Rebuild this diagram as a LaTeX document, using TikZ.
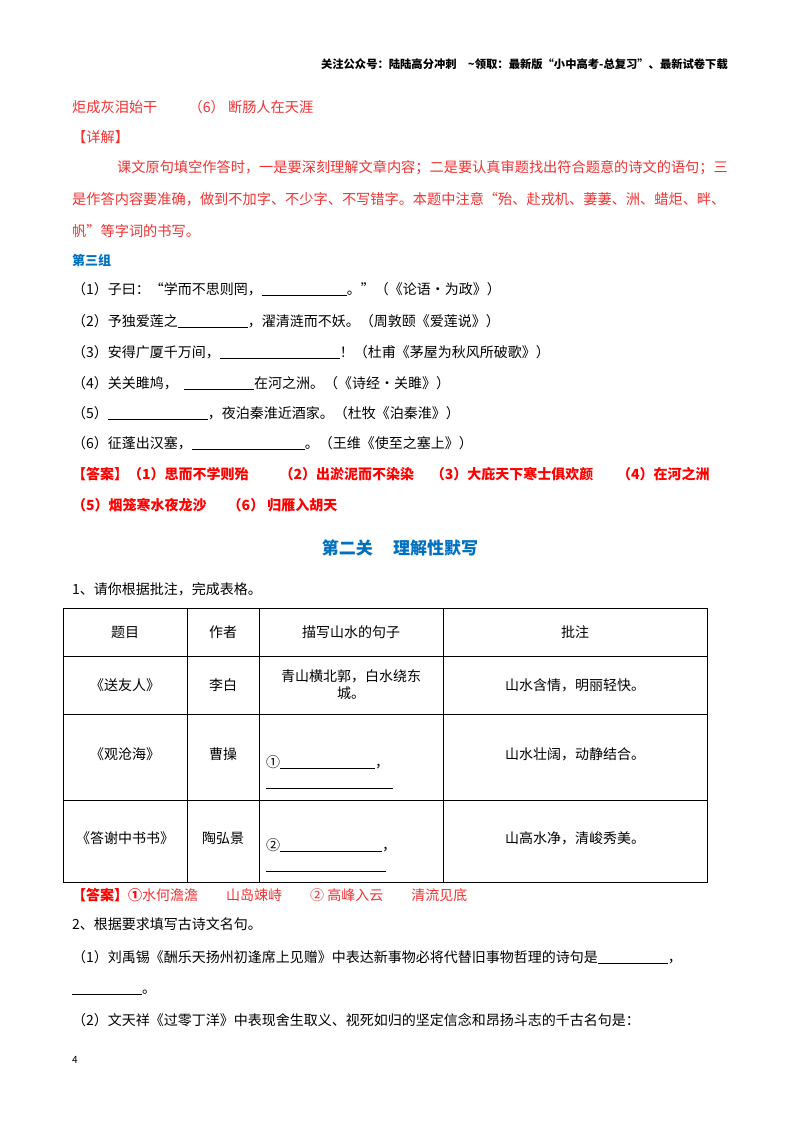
\documentclass[tikz,border=0pt]{standalone}
\usepackage{fontspec}
\setmainfont{Noto Sans CJK SC}
\definecolor{ared}{RGB}{255,0,0}
\definecolor{pred}{RGB}{240,50,50}
\definecolor{hblue}{RGB}{0,112,192}
\newcommand{\blank}[1]{\rule[-2pt]{#1pt}{0.6pt}}
\begin{document}
\begin{tikzpicture}[x=1pt,y=-1pt,
  t/.style={anchor=base west,inner sep=0pt,font=\fontsize{14}{16}\selectfont},
  rt/.style={t,text=pred,font=\fontsize{14.2}{16}\selectfont},
  ans/.style={t,text=ared,font=\fontsize{14}{16}\selectfont\bfseries},
  cell/.style={anchor=center,inner sep=0pt,align=center,font=\fontsize{14}{18}\selectfont}]
\useasboundingbox (0,0) rectangle (800,1132);
\fill[white] (0,0) rectangle (800,1132);
\node[anchor=base east,inner sep=0pt,font=\fontsize{11.3}{13}\selectfont\bfseries] (hdr) at (728,69) {关注公众号：陆陆高分冲刺\hspace{1em}\textasciitilde 领取：最新版“小中高考-总复习”、最新试卷下载};
\node[rt] (l0) at (72,112) {炬成灰泪始干\hspace{2.2em}（6）\ 断肠人在天涯};
\node[rt] (xj) at (72,142) {【详解】};
\node[rt] (p1) at (117,172) {课文原句填空作答时，一是要深刻理解文章内容；二是要认真审题找出符合题意的诗文的语句；三};
\node[rt] (p2) at (72,204) {是作答内容要准确，做到不加字、不少字、不写错字。本题中注意“殆、赴戎机、萋萋、洲、蜡炬、畔、};
\node[rt] (p3) at (72,236) {帆”等字词的书写。};
\node[t,text=hblue,font=\fontsize{13}{15}\selectfont\bfseries] (g3) at (72,265) {第三组};
\node[t] (q1) at (72,294) {（1）子曰：“学而不思则罔，\blank{85}。”（《论语·为政》）};
\node[t] (q2) at (72,326) {（2）予独爱莲之\blank{70}，濯清涟而不妖。（周敦颐《爱莲说》）};
\node[t] (q3) at (72,357) {（3）安得广厦千万间，\blank{120}！（杜甫《茅屋为秋风所破歌》）};
\node[t] (q4) at (72,388) {（4）关关雎鸠，\ \ \blank{70}在河之洲。（《诗经•关雎》）};
\node[t] (q5) at (72,418) {（5）\blank{100}，夜泊秦淮近酒家。（杜牧《泊秦淮》）};
\node[t] (q6) at (72,448) {（6）征蓬出汉塞，\blank{113}。（王维《使至之塞上》）};
\node[ans] (a1) at (72,479) {【答案】（1）思而不学则殆\hspace{2.2em}（2）出淤泥而不染染\hspace{1.2em}（3）大庇天下寒士俱欢颜\hspace{1.7em}（4）在河之洲};
\node[ans] (a2) at (72,510) {（5）烟笼寒水夜龙沙\hspace{1.5em}（6）\ 归雁入胡天};
\node[anchor=center,inner sep=0pt,text=hblue,font=\fontsize{17}{20}\selectfont\bfseries] (h2) at (400,548) {第二关\hspace{1.2em}理解性默写};
\node[t] (s1) at (72,594) {1、请你根据批注，完成表格。};
% table
\draw[line width=0.9pt] (63,608) rectangle (707,882);
\foreach \yy in {656,714,800} \draw[line width=0.9pt] (63,\yy) -- (707,\yy);
\foreach \xx in {187,259,443} \draw[line width=0.9pt] (\xx,608) -- (\xx,882);
\node[cell] (h1) at (125,632) {题目};
\node[cell] (h2b) at (223,632) {作者};
\node[cell] (h3) at (351,632) {描写山水的句子};
\node[cell] (h4) at (575,632) {批注};
\node[cell] (r1a) at (125,685) {《送友人》};
\node[cell] (r1b) at (223,685) {李白};
\node[cell,font=\fontsize{14}{17}\selectfont] (r1c) at (351,685) {青山横北郭，白水绕东\\城。};
\node[cell] (r1d) at (575,685) {山水含情，明丽轻快。};
\node[cell] (r2a) at (125,754) {《观沧海》};
\node[cell] (r2b) at (223,754) {曹操};
\node[t] (r2c) at (266,767) {①\blank{95}，};
\node[t] (r2e) at (266,787) {\blank{127}};
\node[cell] (r2d) at (575,754) {山水壮阔，动静结合。};
\node[cell] (r3a) at (125,838) {《答谢中书书》};
\node[cell] (r3b) at (223,838) {陶弘景};
\node[t] (r3c) at (266,850) {②\blank{102}，};
\node[t] (r3e) at (266,870) {\blank{120}};
\node[cell] (r3d) at (575,838) {山高水净，清峻秀美。};
\node[t,text=pred] (a3) at (72,900) {\textbf{\color{ared}【答案】①}水何澹澹\hspace{2em}山岛竦峙\hspace{2em}②\ 高峰入云\hspace{2em}清流见底};
\node[t] (s2) at (72,929) {2、根据要求填写古诗文名句。};
\node[t] (b1) at (72,962) {（1）刘禹锡《酬乐天扬州初逢席上见赠》中表达新事物必将代替旧事物哲理的诗句是\blank{70}，};
\node[t] (b1b) at (72,993) {\blank{70}。};
\node[t] (b2) at (72,1025) {（2）文天祥《过零丁洋》中表现舍生取义、视死如归的坚定信念和昂扬斗志的千古名句是：};
\node[t,font=\fontsize{10}{12}\selectfont] (pg) at (72,1063) {4};
\end{tikzpicture}
\end{document}
